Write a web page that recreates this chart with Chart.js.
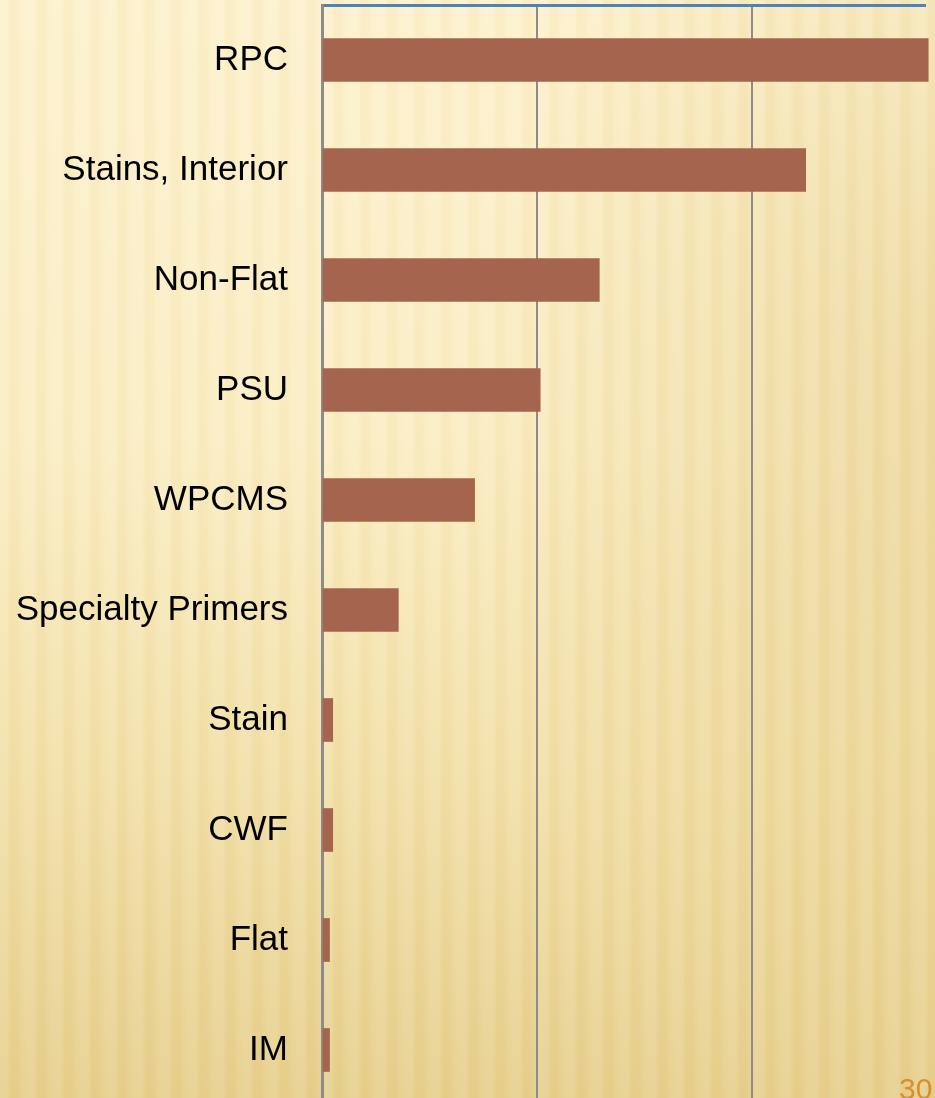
<!DOCTYPE html>
<html>
<head>
<meta charset="utf-8">
<script src="https://cdn.jsdelivr.net/npm/chart.js@4"></script>
<style>
  html, body {
    margin: 0;
    padding: 0;
    width: 935px;
    height: 1098px;
    overflow: hidden;
  }
  body {
    position: relative;
    background:
      repeating-linear-gradient(90deg,
        rgba(255,255,255,0.10) 0px, rgba(255,255,255,0.10) 7px,
        rgba(200,160,60,0.045) 11px, rgba(200,160,60,0.045) 17px,
        rgba(255,255,255,0.05) 22px, rgba(255,255,255,0.10) 27px),
      radial-gradient(ellipse 520px 700px at 980px 420px, rgba(214,184,100,0.4), rgba(214,184,100,0) 100%),
      linear-gradient(180deg, #fdf1cc 0%, #fbedc3 40%, #f2e0a8 70%, #e6cf8c 100%);
  }
  #wrap {
    position: absolute;
    left: 0;
    top: 0;
    width: 935px;
    height: 1110px;
  }
  #slideNum {
    position: absolute;
    left: 899px;
    top: 1072px;
    font-family: "Liberation Sans", Arial, sans-serif;
    font-size: 30px;
    color: #d98f2b;
  }
</style>
</head>
<body>
<div id="wrap"><canvas id="chart" width="935" height="1110"></canvas></div>
<div id="slideNum">30</div>
<script>
const categories = ["RPC", "Stains, Interior", "Non-Flat", "PSU", "WPCMS",
  "Specialty Primers", "Stain", "CWF", "Flat", "IM"];
const values = [28.2, 22.5, 12.9, 10.15, 7.1, 3.55, 0.5, 0.5, 0.35, 0.35];
const gridTicks = [0, 10, 20];

const ctx = document.getElementById("chart").getContext("2d");

new Chart(ctx, {
  type: "bar",
  data: {
    labels: categories,
    datasets: [
      {
        data: values,
        backgroundColor: "#a5644e",
        borderWidth: 0,
        barThickness: 43,
        clip: false,
      },
    ],
  },
  options: {
    indexAxis: "y",
    responsive: false,
    animation: false,
    layout: {
      padding: { top: 5, right: 10, bottom: 5, left: 0 },
    },
    scales: {
      x: {
        position: "top",
        min: 0,
        max: 28.05,
        afterBuildTicks: (axis) => {
          axis.ticks = gridTicks.map((v) => ({ value: v }));
        },
        afterFit: (axis) => {
          axis.height = 0;
        },
        ticks: { display: false },
        grid: {
          color: "#8c8c8c",
          lineWidth: 2,
          drawTicks: false,
        },
        border: { color: "#4f81bd", width: 3 },
      },
      y: {
        afterFit: (axis) => {
          axis.width = 322;
          axis.paddingTop = 0;
          axis.paddingBottom = 0;
        },
        ticks: {
          color: "#000000",
          padding: 34,
          font: { family: "Liberation Sans", size: 35 },
        },
        grid: { display: false, drawTicks: false },
        border: { color: "#8c8c8c", width: 3 },
      },
    },
    plugins: {
      legend: { display: false },
      tooltip: { enabled: false },
    },
  },
});
</script>
</body>
</html>
